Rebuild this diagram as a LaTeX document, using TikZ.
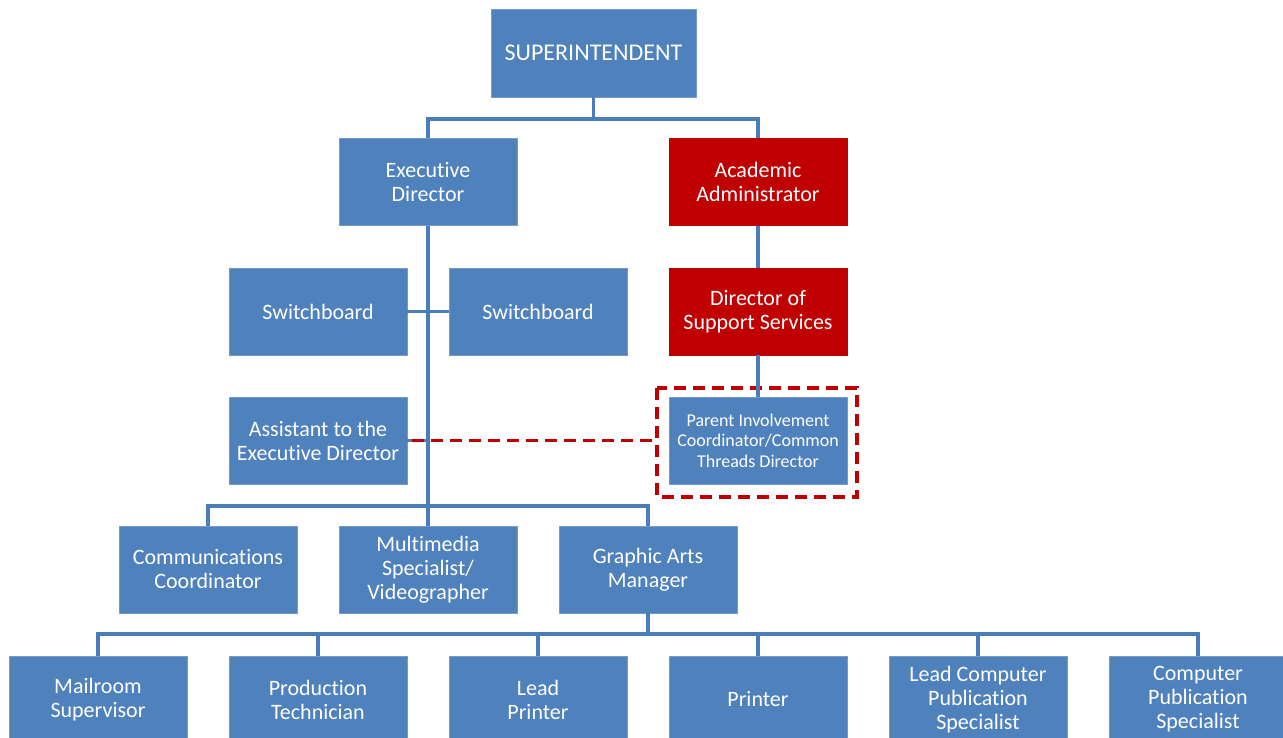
\documentclass[tikz,border=0pt]{standalone}
\usepackage{fontspec}
\setmainfont[Ligatures=NoCommon]{Carlito}
\definecolor{boxblue}{HTML}{4F81BD}
\definecolor{boxred}{HTML}{C00000}
\definecolor{lineblue}{HTML}{4A7EBB}
\begin{document}
\begin{tikzpicture}[x=1pt,y=-1pt,
  box/.style={fill=boxblue, draw=boxblue!80!white, line width=0.6pt, text=white, align=center,
    minimum width=178pt, minimum height=87pt, inner sep=0pt,
    font=\fontsize{22}{24}\selectfont},
  redbox/.style={box, fill=boxred, draw=boxred},
  conn/.style={draw=lineblue, line width=3.2pt},
  reddash/.style={draw=boxred, line width=3.2pt, dash pattern=on 12pt off 7pt}
]
\useasboundingbox (0,0) rectangle (1283,738);
\node[box, minimum width=205pt, minimum height=88pt, font=\fontsize{24}{26}\selectfont] (sup) at (593.5,53) {SUPERINTENDENT};
\node[box] (exec) at (428,182) {Executive\\Director};
\node[redbox] (acad) at (758,182) {Academic\\Administrator};
\node[box] (sw1) at (318,311.5) {Switchboard};
\node[box] (sw2) at (538,311.5) {Switchboard};
\node[redbox] (dss) at (758,311.5) {Director of\\Support Services};
\node[box] (asst) at (318,440.5) {Assistant to the\\Executive Director};
\node[box, font=\fontsize{18}{20.5}\selectfont] (pic) at (758,440.5) {Parent Involvement\\Coordinator/Common\\Threads Director};
\node[box] (comm) at (208,569.5) {Communications\\Coordinator};
\node[box] (mm) at (428,569.5) {Multimedia\\Specialist/\\Videographer};
\node[box] (gam) at (648,569.5) {Graphic Arts\\Manager};
\node[box] (mail) at (98,699.5) {Mailroom\\Supervisor};
\node[box] (prod) at (318,699.5) {Production\\Technician};
\node[box] (lp) at (538,699.5) {Lead\\Printer};
\node[box] (pr) at (758,699.5) {Printer};
\node[box] (lcps) at (978,699.5) {Lead Computer\\Publication\\Specialist};
\node[box] (cps) at (1198,699.5) {Computer\\Publication\\Specialist};
\draw[reddash] (657,388) rectangle (857,497);
% superintendent
\draw[conn] (sup.south) -- (593.5,119) -| (exec.north);
\draw[conn] (593.5,119) -| (acad.north);
% executive director spine
\coordinate (spineend) at (428,506);
\draw[conn] (exec.south) -- (mm.north);
\draw[conn] (sw1.east) -- (sw2.west);
\draw[conn] (asst.east) -- (428,440.5);
\draw[conn] (comm.north) |- (spineend) -| (gam.north);
% academic
\draw[conn] (acad.south) -- (dss.north);
\draw[conn] (dss.south) -- (pic.north);
% dashed link
\draw[reddash] (412,440.5) -- (657,440.5);
% graphic arts
\coordinate (gbar) at (648,634);
\draw[conn] (gam.south) -- (gbar);
\draw[conn] (mail.north) |- (gbar) -| (cps.north);
\foreach \n in {prod,lp,pr,lcps} \draw[conn] (\n.north) -- (\n.north |- gbar);
\end{tikzpicture}
\end{document}
